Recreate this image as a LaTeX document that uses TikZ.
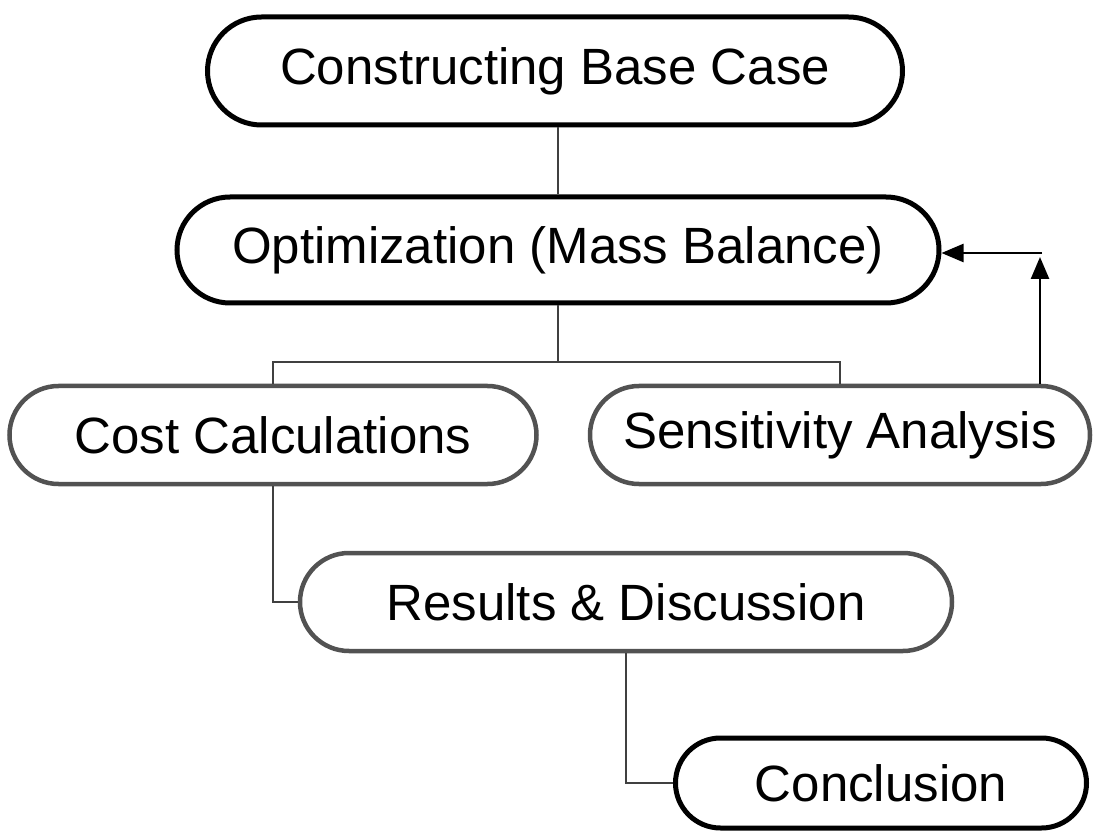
\documentclass[tikz,border=0pt]{standalone}
\usepackage{fontspec}
\setmainfont{Liberation Sans}
\usetikzlibrary{shapes.misc,arrows.meta}
\begin{document}
\begin{tikzpicture}[x=1pt,y=-1pt,
  box/.style={rounded rectangle, draw=black, line width=5pt, inner sep=0pt, font=\fontsize{51}{60}\selectfont},
  greybox/.style={box, draw=black!68, line width=4.5pt},
  link/.style={draw=black!75, line width=1.6pt},
  arr/.style={draw=black, line width=2.5pt, -{Triangle[length=22pt,width=18pt]}}]
\useasboundingbox (0,0) rectangle (1093,834);
\node[box, minimum width=695pt, minimum height=108pt] (n1) at (555,71) {Constructing Base Case};
\node[box, minimum width=762pt, minimum height=106pt] (n2) at (558,250) {Optimization (Mass Balance)};
\node[greybox, minimum width=527pt, minimum height=98pt] (n3) at (273,435) {Cost Calculations};
\node[greybox, minimum width=500pt, minimum height=98pt] (n4) at (840,435) {Sensitivity Analysis};
\node[greybox, minimum width=652pt, minimum height=98pt] (n5) at (626,602) {Results \& Discussion};
\node[box, minimum width=411pt, minimum height=90pt] (n6) at (881,783) {Conclusion};
\coordinate (j) at (558,362);
\coordinate (up) at (1040,257);
\coordinate (c) at (1042,253);
\draw[link] (n2.north |- n1.south) -- (n2.north);
\draw[link] (n2.south) -- (j);
\draw[link] (n3.north) |- (j) -| (n4.north);
\draw[link] (n3.south) |- (n5.west);
\draw[link] (n5.south) |- (n6.west);
\draw[arr] (up |- n4.north) -- (up);
\draw[arr] (c) -- (c -| n2.east);
\end{tikzpicture}
\end{document}
